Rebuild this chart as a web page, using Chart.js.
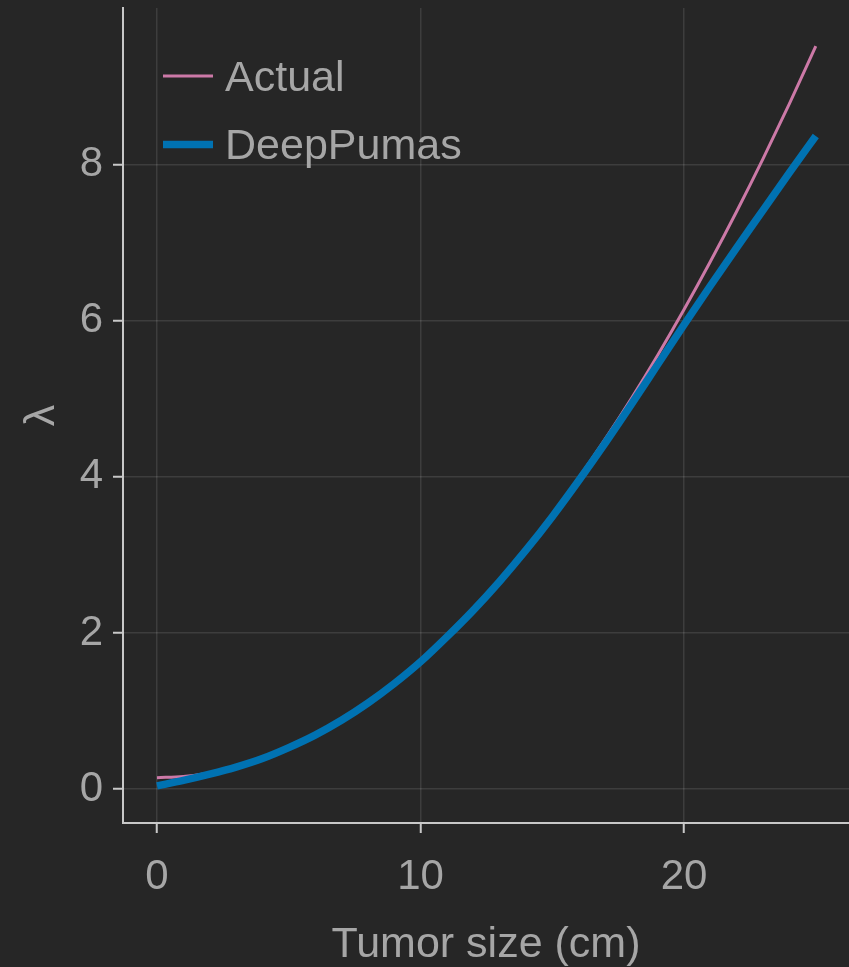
<!DOCTYPE html>
<html>
<head>
<meta charset="utf-8">
<script src="https://cdn.jsdelivr.net/npm/chart.js@4/dist/chart.umd.min.js"></script>
<style>
  html, body { margin: 0; padding: 0; background: #262626; }
  #wrap { width: 849px; height: 967px; }
</style>
</head>
<body>
<div id="wrap"><canvas id="grafica" width="849" height="967"></canvas></div>
<script>
// tamaño del tumor (cm)
const tamanos = [0, 1, 2, 3, 4, 5, 6, 7, 8, 9, 10, 11, 12, 13, 14, 15, 16, 17, 18, 19, 20, 21, 22, 23, 24, 25];
// lambda real
const lambdaActual = [0.145, 0.16, 0.205, 0.28, 0.385, 0.52, 0.685, 0.88, 1.105, 1.36, 1.645, 1.96, 2.305, 2.68, 3.085, 3.52, 3.985, 4.48, 5.005, 5.56, 6.145, 6.76, 7.405, 8.08, 8.785, 9.52];
// lambda predicha por el modelo
const lambdaDeepPumas = [0.04, 0.11, 0.19, 0.28, 0.39, 0.53, 0.69, 0.88, 1.1, 1.35, 1.63, 1.95, 2.29, 2.66, 3.06, 3.49, 3.95, 4.43, 4.93, 5.44, 5.95, 6.45, 6.94, 7.42, 7.9, 8.37];
const etiquetas = ['Actual', 'DeepPumas'];
const ticksX = [0, 10, 20];
const ticksY = [0, 2, 4, 6, 8];

const colorTexto = '#a6a6a6';
const colorEje = '#c8c8c8';
const colorRejilla = 'rgba(255,255,255,0.11)';
const fuente = "'Liberation Sans', Arial, sans-serif";

function puntos(ys) {
    return tamanos.map((x, i) => ({ x: x, y: ys[i] }));
}

// Leyenda dibujada dentro del área del gráfico
const leyendaInterna = {
    id: 'leyendaInterna',
    afterDatasetsDraw(chart) {
        const ctx = chart.ctx;
        const area = chart.chartArea;
        ctx.save();
        chart.data.datasets.forEach((ds, i) => {
            const y = area.top + 68 + i * 68.5;
            ctx.strokeStyle = ds.borderColor;
            ctx.lineWidth = ds.borderWidth;
            ctx.beginPath();
            ctx.moveTo(area.left + 40, y);
            ctx.lineTo(area.left + 90, y);
            ctx.stroke();
            ctx.fillStyle = colorTexto;
            ctx.font = '43px ' + fuente;
            ctx.textBaseline = 'middle';
            ctx.textAlign = 'left';
            ctx.fillText(ds.label, area.left + 102, y + 3);
        });
        ctx.restore();
    }
};

const ctx = document.getElementById('grafica').getContext('2d');
window.grafica = new Chart(ctx, {
    type: 'line',
    data: {
        datasets: [{
            label: etiquetas[0],
            data: puntos(lambdaActual),
            borderColor: '#cc79a7',
            borderWidth: 3,
            pointRadius: 0,
            order: 2,
            cubicInterpolationMode: 'monotone'
        }, {
            label: etiquetas[1],
            data: puntos(lambdaDeepPumas),
            borderColor: '#0072b2',
            borderWidth: 7.5,
            pointRadius: 0,
            order: 1,
            cubicInterpolationMode: 'monotone'
        }]
    },
    options: {
        responsive: false,
        animation: false,
        layout: { padding: { top: 8, right: 0, left: 0, bottom: 0 } },
        plugins: {
            legend: { display: false },
            tooltip: { enabled: false }
        },
        scales: {
            x: {
                type: 'linear',
                min: -1.29,
                max: 26.26,
                afterBuildTicks: (eje) => { eje.ticks = ticksX.map(v => ({ value: v })); },
                afterFit: (eje) => {
                    eje.height = 144;
                    eje.paddingLeft = 0;
                    eje.paddingRight = 0;
                },
                ticks: {
                    color: colorTexto,
                    font: { family: fuente, size: 42 },
                    padding: 19,
                    maxRotation: 0
                },
                grid: {
                    color: colorRejilla,
                    lineWidth: 1.5,
                    tickColor: colorEje,
                    tickLength: 10,
                    tickWidth: 2
                },
                border: { color: colorEje, width: 2 },
                title: {
                    display: true,
                    text: 'Tumor size (cm)',
                    color: colorTexto,
                    font: { family: fuente, size: 43 },
                    padding: { top: 0, bottom: -4 }
                }
            },
            y: {
                type: 'linear',
                min: -0.436,
                max: 10.01,
                afterBuildTicks: (eje) => { eje.ticks = ticksY.map(v => ({ value: v })); },
                afterFit: (eje) => {
                    eje.width = 123;
                    eje.paddingTop = 0;
                    eje.paddingBottom = 0;
                },
                ticks: {
                    color: colorTexto,
                    font: { family: fuente, size: 42 },
                    padding: 10
                },
                grid: {
                    color: colorRejilla,
                    lineWidth: 1.5,
                    tickColor: colorEje,
                    tickLength: 10,
                    tickWidth: 2
                },
                border: { color: colorEje, width: 2 },
                title: {
                    display: true,
                    text: 'λ',
                    color: colorTexto,
                    font: { family: fuente, size: 43 },
                    padding: { top: 16, bottom: 0 }
                }
            }
        }
    },
    plugins: [leyendaInterna]
});
</script>
</body>
</html>
